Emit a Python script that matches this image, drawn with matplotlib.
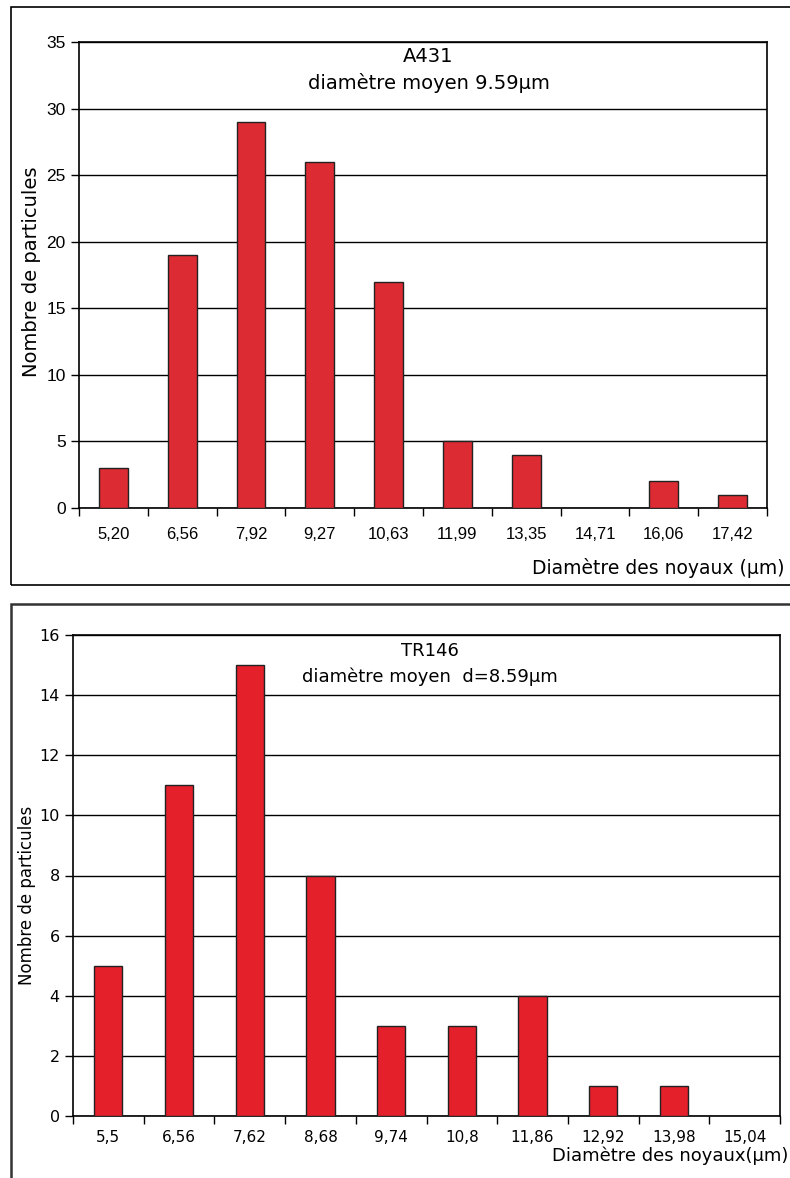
import matplotlib
matplotlib.use("Agg")
import matplotlib.pyplot as plt
from matplotlib.patches import Rectangle
import numpy as np

# top chart: A431
a431_labels = ["5,20", "6,56", "7,92", "9,27", "10,63", "11,99", "13,35", "14,71", "16,06", "17,42"]
a431_counts = [3, 19, 29, 26, 17, 5, 4, 0, 2, 1]

# bottom chart: TR146
tr146_labels = ["5,5", "6,56", "7,62", "8,68", "9,74", "10,8", "11,86", "12,92", "13,98", "15,04"]
tr146_counts = [5, 11, 15, 8, 3, 3, 4, 1, 1, 0]

W, H = 790, 1178
fig = plt.figure(figsize=(W / 100, H / 100), dpi=100)


def rect(l, t, r, b):
    return [l / W, 1 - b / H, (r - l) / W, (b - t) / H]


def draw(ax, labels, counts, ymax, ystep, color, width, font, fs, yfs):
    x = np.arange(len(labels))
    ax.bar(x, counts, width=width, color=color, edgecolor="#222222", linewidth=1.0, zorder=3)
    ax.set_xlim(-0.5, len(labels) - 0.5)
    ax.set_ylim(0, ymax)
    ax.set_yticks(np.arange(0, ymax + 1, ystep))
    ax.yaxis.grid(True, color="black", linewidth=1.0, zorder=0)
    ax.set_axisbelow(True)
    # tick marks between categories, labels centered under bars
    ax.set_xticks(np.arange(-0.5, len(labels)), minor=False)
    ax.set_xticklabels([])
    ax.set_xticks(x, minor=True)
    ax.set_xticklabels(labels, minor=True, fontfamily=font, fontsize=fs)
    ax.tick_params(axis="x", which="minor", length=0, pad=14)
    ax.tick_params(axis="x", which="major", length=6, direction="out", width=1)
    ax.tick_params(axis="y", length=6, direction="out", width=1, labelsize=yfs)
    for lab in ax.get_yticklabels():
        lab.set_fontfamily(font)
    for s in ax.spines.values():
        s.set_linewidth(1.2)
        s.set_color("black")


# frames around each panel
fig.patches.append(Rectangle((11 / W, 1 - 585 / H), 790 / W, 578 / H, transform=fig.transFigure,
                             fill=False, edgecolor="black", linewidth=1.2))
fig.patches.append(Rectangle((11 / W, 1 - 1180 / H), 790 / W, 576 / H, transform=fig.transFigure,
                             fill=False, edgecolor="#333333", linewidth=1.8))

ax1 = fig.add_axes(rect(79, 42, 767, 508))
draw(ax1, a431_labels, a431_counts, 35, 5, "#DC2B33", 0.42, "Liberation Sans", 12, 12.5)
ax1.text(0.508, 0.99, "A431\ndiamètre moyen 9.59µm", transform=ax1.transAxes, ha="center", va="top",
         fontsize=14, fontfamily="DejaVu Sans", linespacing=1.45)
fig.text(785 / W, 1 - 568 / H, "Diamètre des noyaux (µm)", ha="right", va="center",
         fontsize=13.5, fontfamily="DejaVu Sans")
fig.text(32 / W, 1 - 272 / H, "Nombre de particules", ha="center", va="center", rotation=90,
         fontsize=14, fontfamily="DejaVu Sans")

ax2 = fig.add_axes(rect(73, 635, 780, 1116))
draw(ax2, tr146_labels, tr146_counts, 16, 2, "#E4202A", 0.40, "DejaVu Sans", 11, 11.5)
ax2.tick_params(axis="x", which="minor", pad=10)
ax2.text(0.505, 0.985, "TR146\ndiamètre moyen  d=8.59µm", transform=ax2.transAxes, ha="center", va="top",
         fontsize=13, fontfamily="DejaVu Sans", linespacing=1.5)
fig.text(788 / W, 1 - 1156 / H, "Diamètre des noyaux(µm)", ha="right", va="center",
         fontsize=13, fontfamily="DejaVu Sans")
fig.text(27 / W, 1 - 895 / H, "Nombre de particules", ha="center", va="center", rotation=90,
         fontsize=12, fontfamily="DejaVu Sans")

fig.savefig("out.png", dpi=100)
